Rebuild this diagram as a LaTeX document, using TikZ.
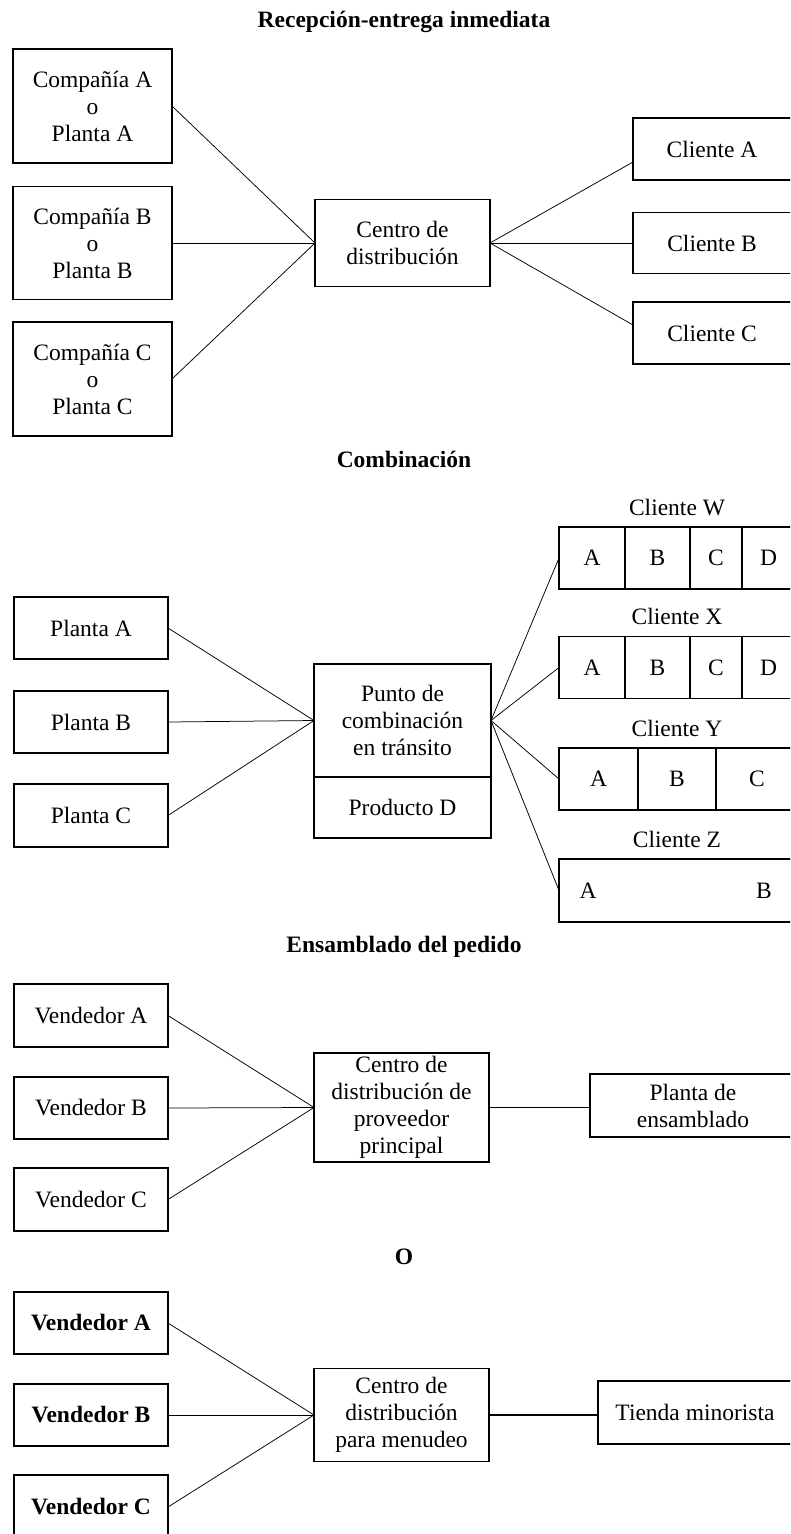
\documentclass[tikz,border=0pt]{standalone}
\usepackage{fontspec}
\setmainfont{Liberation Serif}
\usetikzlibrary{positioning}
\newcommand{\diagfont}{\fontsize{23.5}{27}\selectfont}

\begin{document}
\begin{tikzpicture}[
  x=1pt, y=-1pt,
  node distance=0pt,
  box/.style={draw,line width=1.2pt,align=center,inner sep=0pt,outer sep=0pt,font=\diagfont},
  bbox/.style={box,font=\bfseries\diagfont},
  cell/.style={box,minimum height=62pt},
  lbl/.style={font=\diagfont,anchor=base},
  ttl/.style={font=\bfseries\diagfont,anchor=base},
  link/.style={line width=0.75pt},
  trunk/.style={line width=1.6pt}
]
\useasboundingbox (0,0) rectangle (790,1534);
\clip (0,0) rectangle (790,1534);

% Recepcion-entrega inmediata
\node[ttl] (t1) at (404,27) {Recepción-entrega inmediata};
\node[box,minimum width=159pt,minimum height=114pt] (ca) at (92.5,106) {Compañía A\\o\\Planta A};
\node[box,minimum width=159pt,minimum height=113pt] (cb) at (92.5,243) {Compañía B\\o\\Planta B};
\node[box,minimum width=159pt,minimum height=114pt] (cc) at (92.5,379) {Compañía C\\o\\Planta C};
\node[box,minimum width=175pt,minimum height=87pt] (cd) at (402.5,243) {Centro de\\distribución};
\node[box,minimum width=164pt,minimum height=62pt] (ka) at (715,149) {\hspace*{-6pt}Cliente A};
\node[box,minimum width=164pt,minimum height=61pt] (kb) at (715,243) {\hspace*{-6pt}Cliente B};
\node[box,minimum width=164pt,minimum height=62pt] (kc) at (715,333) {\hspace*{-6pt}Cliente C};
\draw[link] (ca.east) -- (cd.west);
\draw[link] (cb.east) -- (cd.west);
\draw[link] (cc.east) -- (cd.west);
\draw[link] (cd.east) -- ([yshift=-13pt]ka.west);
\draw[link] (cd.east) -- (kb.west);
\draw[link] (cd.east) -- ([yshift=8pt]kc.west);

% Combinacion
\node[ttl] (t2) at (404,467) {Combinación};
\node[box,minimum width=154pt,minimum height=62pt] (pa) at (91,628) {Planta A};
\node[box,minimum width=154pt,minimum height=62pt] (pb) at (91,722) {Planta B};
\node[box,minimum width=154pt,minimum height=63pt] (pc) at (91,815.5) {Planta C};
\node[box,minimum width=177pt,minimum height=113pt] (pt) at (402.5,720.5) {Punto de\\combinación\\en tránsito};
\node[box,minimum width=177pt,minimum height=61pt,below=of pt] (pd) {Producto D};

\node[lbl] (lw) at (677,515) {Cliente W};
\node[cell,minimum width=66pt] (wa) at (592,558) {A};
\node[cell,minimum width=65pt,right=of wa] (wb) {B};
\node[cell,minimum width=52pt,right=of wb] (wc) {C};
\node[cell,minimum width=56pt,right=of wc] (wd) {\hspace*{-3pt}D};

\node[lbl] (lx) at (677,624) {Cliente X};
\node[cell,minimum width=66pt] (xa) at (592,667.5) {A};
\node[cell,minimum width=65pt,right=of xa] (xb) {B};
\node[cell,minimum width=52pt,right=of xb] (xc) {C};
\node[cell,minimum width=56pt,right=of xc] (xd) {\hspace*{-3pt}D};

\node[lbl] (ly) at (677,736) {Cliente Y};
\node[cell,minimum width=79pt] (ya) at (598.5,779) {A};
\node[cell,minimum width=78pt,right=of ya] (yb) {B};
\node[cell,minimum width=82pt,right=of yb] (yc) {C};

\node[lbl] (lz) at (677,847) {Cliente Z};
\node[cell,minimum width=239pt,minimum height=63pt] (zz) at (678.5,890.5) {};
\node[font=\diagfont] (za) at (588,890.5) {A};
\node[font=\diagfont] (zb) at (764,890.5) {B};

\draw[link] (pa.east) -- (pt.west);
\draw[link] (pb.east) -- (pt.west);
\draw[link] (pc.east) -- (pt.west);
\draw[link] (pt.east) -- (wa.west);
\draw[link] (pt.east) -- (xa.west);
\draw[link] (pt.east) -- (ya.west);
\draw[link] (pt.east) -- (zz.west);

% Ensamblado del pedido
\node[ttl] (t3) at (404,952) {Ensamblado del pedido};
\node[box,minimum width=154pt,minimum height=63pt] (va) at (91,1015.5) {Vendedor A};
\node[box,minimum width=154pt,minimum height=62pt] (vb) at (91,1108) {Vendedor B};
\node[box,minimum width=154pt,minimum height=63pt] (vc) at (91,1199.5) {Vendedor C};
\node[box,minimum width=175pt,minimum height=109pt] (cp) at (401.5,1107.5) {Centro de\\distribución de\\proveedor\\principal};
\node[box,minimum width=206pt,minimum height=63pt] (pe) at (693,1105.5) {Planta de\\ensamblado};
\draw[link] (va.east) -- (cp.west);
\draw[link] (vb.east) -- (cp.west);
\draw[link] (vc.east) -- (cp.west);
\draw[trunk] (cp.east) -- (cp.east -| pe.west);

% O
\node[ttl] (t4) at (404,1264) {O};
\node[bbox,minimum width=154pt,minimum height=62pt] (ma) at (91,1323) {Vendedor A};
\node[bbox,minimum width=154pt,minimum height=62pt] (mb) at (91,1415) {Vendedor B};
\node[bbox,minimum width=154pt,minimum height=64pt] (mc) at (91,1507) {Vendedor C};
\node[box,minimum width=175pt,minimum height=93pt] (cm) at (401.5,1415) {Centro de\\distribución\\para menudeo};
\node[box,minimum width=198pt,minimum height=63pt] (tm) at (697,1412.5) {\hspace*{-4pt}Tienda minorista};
\draw[link] (ma.east) -- (cm.west);
\draw[link] (mb.east) -- (cm.west);
\draw[link] (mc.east) -- (cm.west);
\draw[trunk] (cm.east) -- (cm.east -| tm.west);
\end{tikzpicture}
\end{document}
